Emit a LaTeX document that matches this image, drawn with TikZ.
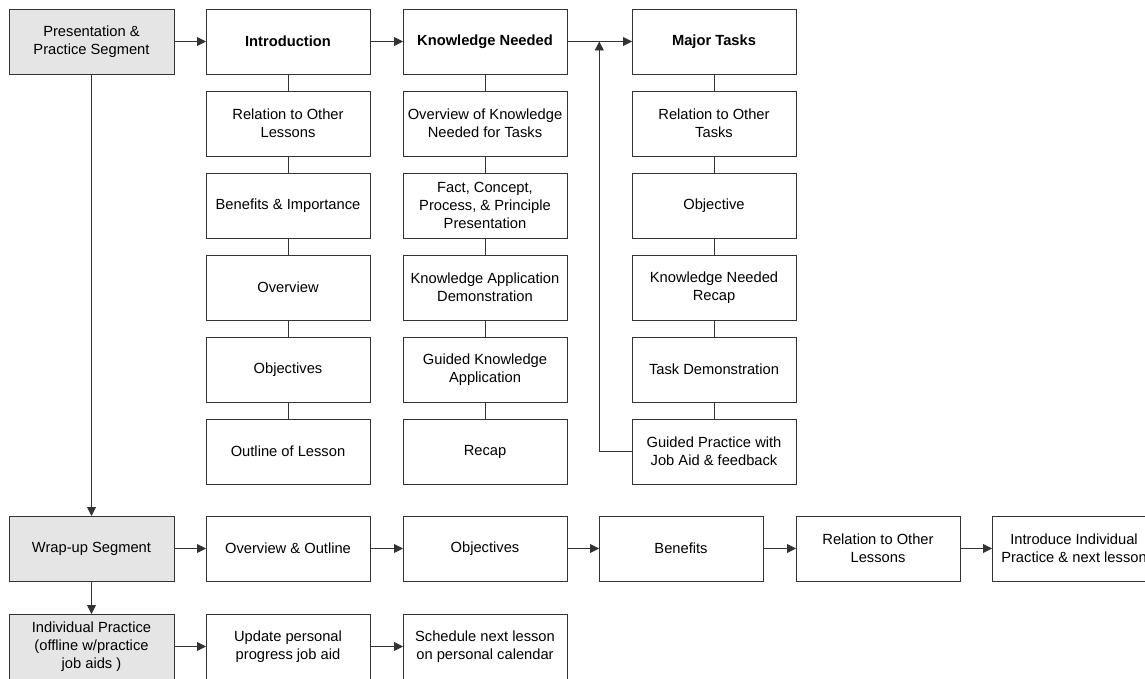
\documentclass[tikz,border=0pt]{standalone}
\usepackage{fontspec}
\setmainfont{Liberation Sans}
\usetikzlibrary{arrows.meta}
\begin{document}
\begin{tikzpicture}[x=1pt,y=-1pt,
  box/.style={draw=black!80, line width=0.9pt, fill=white, minimum width=164pt, minimum height=65pt,
    inner sep=0pt, outer sep=0pt, align=center, font=\fontsize{14.7}{18}\selectfont},
  seg/.style={box, fill=black!10, minimum width=165pt},
  hd/.style={box, font=\fontsize{14.7}{18}\selectfont\bfseries},
  link/.style={draw=black!80, line width=0.9pt},
  arr/.style={link, -{Triangle[length=9pt,width=9pt]}}]
\useasboundingbox (0,0) rectangle (1145,679);

% left segments
\node[seg] (pres) at (91.5,41.5) {Presentation \&\\Practice Segment};
\node[seg] (wrap) at (91.5,548.5) {Wrap-up Segment};
\node[seg] (ip) at (91.5,646.5) {Individual Practice\\(offline w/practice\\job aids )};

% Introduction column
\node[hd]  (intro) at (288,41.5) {Introduction};
\node[box] (i1) at (288,123.5) {Relation to Other\\Lessons};
\node[box] (i2) at (288,205.5) {Benefits \& Importance};
\node[box] (i3) at (288,287.5) {Overview};
\node[box] (i4) at (288,369.5) {Objectives};
\node[box] (i5) at (288,451.5) {Outline of Lesson};

% Knowledge Needed column
\node[hd]  (kn) at (485,41.5) {Knowledge Needed};
\node[box] (k1) at (485,123.5) {Overview of Knowledge\\Needed for Tasks};
\node[box] (k2) at (485,205.5) {Fact, Concept,\\Process, \& Principle\\Presentation};
\node[box] (k3) at (485,287.5) {Knowledge Application\\Demonstration};
\node[box] (k4) at (485,369.5) {Guided Knowledge\\Application};
\node[box] (k5) at (485,451.5) {Recap};

% Major Tasks column
\node[hd]  (mt) at (714,41.5) {Major Tasks};
\node[box] (m1) at (714,123.5) {Relation to Other\\Tasks};
\node[box] (m2) at (714,205.5) {Objective};
\node[box] (m3) at (714,287.5) {Knowledge Needed\\Recap};
\node[box] (m4) at (714,369.5) {Task Demonstration};
\node[box] (m5) at (714,451.5) {Guided Practice with\\Job Aid \& feedback};

% Wrap-up row
\node[box] (w1) at (288,548.5) {Overview \& Outline};
\node[box] (w2) at (485,548.5) {Objectives};
\node[box] (w3) at (681,548.5) {Benefits};
\node[box] (w4) at (878,548.5) {Relation to Other\\Lessons};
\node[box] (w5) at (1074,548.5) {Introduce Individual\\Practice \& next lesson};

% Individual practice row
\node[box] (p1) at (288,646.5) {Update personal\\progress job aid};
\node[box] (p2) at (485,646.5) {Schedule next lesson\\on personal calendar};

\coordinate (jn) at (599.3,41.5);

% top row arrows
\draw[arr] (pres) -- (intro);
\draw[arr] (intro) -- (kn);
\draw[arr] (kn) -- (mt);
\draw[arr] (m5.west) -| (jn);

% column links
\draw[link] (intro) -- (i1) (i1) -- (i2) (i2) -- (i3) (i3) -- (i4) (i4) -- (i5);
\draw[link] (kn) -- (k1) (k1) -- (k2) (k2) -- (k3) (k3) -- (k4) (k4) -- (k5);
\draw[link] (mt) -- (m1) (m1) -- (m2) (m2) -- (m3) (m3) -- (m4) (m4) -- (m5);

% segment arrows
\draw[arr] (pres) -- (wrap);
\draw[arr] (wrap) -- (ip);
\draw[arr] (wrap) -- (w1);
\draw[arr] (w1) -- (w2);
\draw[arr] (w2) -- (w3);
\draw[arr] (w3) -- (w4);
\draw[arr] (w4) -- (w5);
\draw[arr] (ip) -- (p1);
\draw[arr] (p1) -- (p2);
\end{tikzpicture}
\end{document}
